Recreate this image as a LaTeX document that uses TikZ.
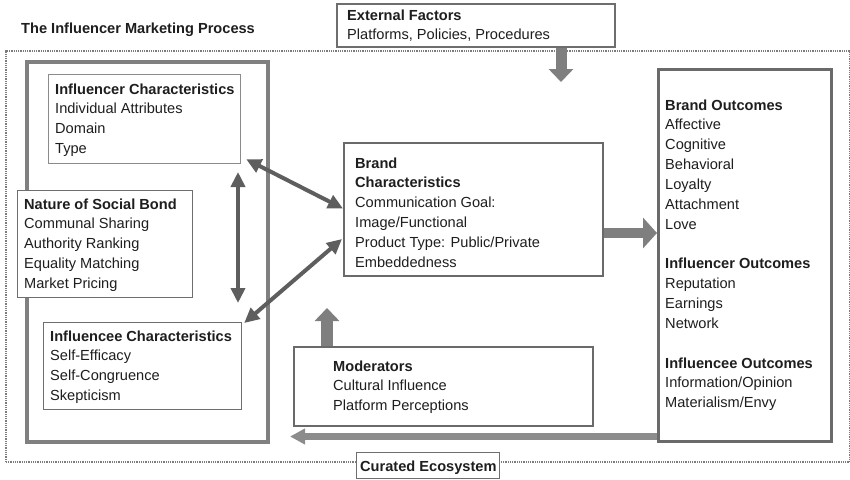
\documentclass[tikz,border=0pt]{standalone}
\usepackage{fontspec}
\setmainfont{Liberation Sans}
\usetikzlibrary{arrows.meta}
\definecolor{textc}{HTML}{1E1E1E}
\definecolor{thinc}{HTML}{6E6E6E}
\definecolor{midc}{HTML}{6A6A6A}
\definecolor{bigc}{HTML}{808080}
\definecolor{dotc}{HTML}{7C7C7C}
\definecolor{dblc}{HTML}{5E5E5E}
\definecolor{blockc}{HTML}{7F7F7F}
\newcommand\boxlines[1]{\begin{tabular}[t]{@{}l@{}}#1\end{tabular}}
\begin{document}
\begin{tikzpicture}[x=1pt,y=-1pt,
  txt/.style={anchor=base west,inner sep=0pt,font=\fontsize{14.6}{19.85}\selectfont,text=textc},
  box/.style={draw=thinc,line width=1.2pt,fill=white,inner sep=0pt,anchor=north west},
  midbox/.style={box,draw=midc,line width=2pt},
  bigbox/.style={draw=bigc,line width=4pt,inner sep=0pt,anchor=north west},
  ecobox/.style={draw=dotc,line width=1.8pt,dash pattern=on 1pt off 0.8pt,inner sep=0pt,anchor=north west},
  dblarrow/.style={draw=dblc,line width=4pt,{Triangle[length=15pt,width=14pt]}-{Triangle[length=15pt,width=14pt]}},
  blockarrow/.style={draw=blockc,-{Triangle[length=13pt,width=24pt]}}
]
\useasboundingbox (0,0) rectangle (850,479);
\fill[white] (0,0) rectangle (850,479);

% outer curated ecosystem
\node[ecobox,minimum width=844pt,minimum height=411pt] (eco) at (5,50) {};
% big left frame
\node[bigbox,minimum width=241pt,minimum height=380pt] (lb) at (25,60) {};

% boxes
\node[box,minimum width=175pt,minimum height=107pt] (nsb) at (17,190) {};
\node[box,draw=thinc!80,minimum width=192pt,minimum height=89pt] (ic) at (48,74) {};
\node[box,minimum width=198pt,minimum height=87pt] (iec) at (43,322) {};
\node[midbox,minimum width=259pt,minimum height=133pt] (brand) at (343,142) {};
\node[midbox,line width=1.8pt,minimum width=299pt,minimum height=79pt] (mod) at (293,346) {};
\node[box,draw=midc,line width=2.5pt,minimum width=173pt,minimum height=372pt] (out) at (657,68) {};
\node[box,line width=1.5pt,minimum width=278pt,minimum height=43pt] (ext) at (336,3) {};
\node[box,line width=1.2pt,minimum width=143pt,minimum height=26pt] (cur) at (356,452) {};

% connectors
\coordinate (vtop) at (238,172);
\coordinate (vbot) at (238,303);
\draw[dblarrow] (vtop) -- (vbot);
\draw[dblarrow] ([xshift=5pt,yshift=5pt]ic.south east) -- ([yshift=1pt]brand.west);
\draw[dblarrow] ([xshift=2pt,yshift=-1pt]iec.north east) -- ([xshift=-1pt,yshift=-29.5pt]brand.west);

\coordinate (ea) at (561,82);
\draw[blockarrow,line width=11pt] (ea |- ext.south) -- (ea);
\coordinate (ma) at (327,308);
\draw[blockarrow,line width=12pt] (ma |- mod.north) -- (ma);
\coordinate (ba) at (657,233);
\draw[blockarrow,line width=10pt,-{Triangle[length=14pt,width=30pt]}] (ba -| brand.east) -- (ba);
\coordinate (fb) at (290,436.5);
\draw[blockarrow,draw=blockc!90!white,line width=6.5pt,-{Triangle[length=15pt,width=15pt]}] (fb -| out.west) -- (fb);

% texts
\node[txt] (title) at (21,33) {\textbf{The Influencer Marketing Process}};
\node[txt] (exttxt) at (347,20) {\boxlines{\textbf{External Factors}\\Platforms, Policies, Procedures}};
\node[txt] (ictxt) at (55,94) {\boxlines{\textbf{Influencer Characteristics}\\Individual Attributes\\Domain\\Type}};
\node[txt] (nsbtxt) at (24,209) {\boxlines{\textbf{Nature of Social Bond}\\Communal Sharing\\Authority Ranking\\Equality Matching\\Market Pricing}};
\node[txt] (iectxt) at (50,341) {\boxlines{\textbf{Influencee Characteristics}\\Self-Efficacy\\Self-Congruence\\Skepticism}};
\node[txt] (brandtxt) at (355,168) {\boxlines{\textbf{Brand}\\\textbf{Characteristics}\\Communication Goal:\\Image/Functional\\Product Type: Public/Private\\Embeddedness}};
\node[txt] (modtxt) at (333,371) {\boxlines{\textbf{Moderators}\\Cultural Influence\\Platform Perceptions}};
\node[txt] (outtxt) at (665,110) {\boxlines{\textbf{Brand Outcomes}\\Affective\\Cognitive\\Behavioral\\Loyalty\\Attachment\\Love\\ \\\textbf{Influencer Outcomes}\\Reputation\\Earnings\\Network\\ \\\textbf{Influencee Outcomes}\\Information/Opinion\\Materialism/Envy}};
\node[txt] (curtxt) at (360,471) {\textbf{Curated Ecosystem}};
\end{tikzpicture}
\end{document}
